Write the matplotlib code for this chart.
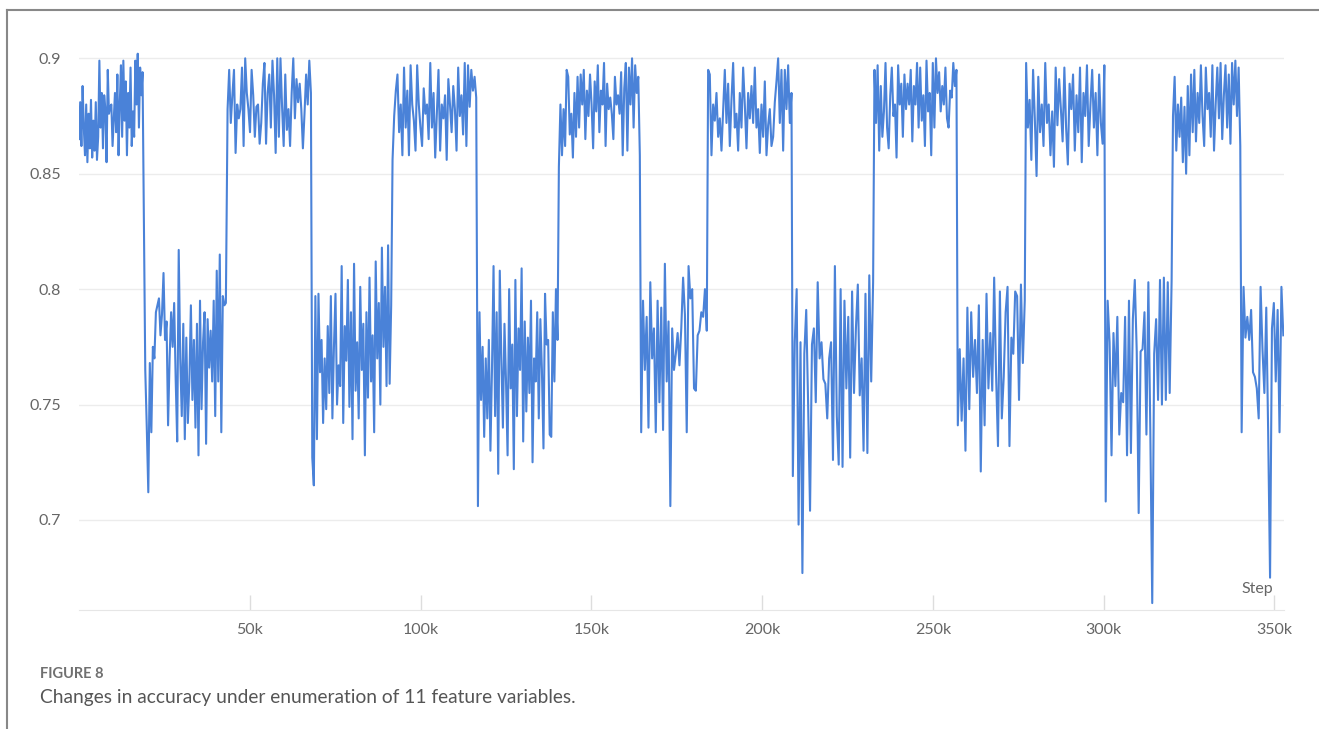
import numpy as np
import matplotlib.pyplot as plt
from matplotlib.lines import Line2D

plt.rcParams['font.family'] = ['Lato', 'DejaVu Sans']

# Segment bounds in steps [k] and accuracy values
seg_start = [0.0, 19.4, 43.5, 68.3, 91.8, 116.8, 140.5, 164.6, 184.2, 209.0, 232.9, 257.3, 277.3, 300.6, 320.3, 340.4]
seg_end = [18.6, 43.0, 67.9, 91.4, 116.3, 140.1, 164.2, 183.8, 208.6, 232.5, 256.9, 276.9, 300.2, 319.9, 340.0, 352.6]

acc_a = [0.865, 0.881, 0.862, 0.888, 0.870, 0.858, 0.880, 0.855, 0.876, 0.861, 0.882, 0.857, 0.873, 0.860,
         0.881, 0.856, 0.866, 0.899, 0.870, 0.885, 0.861, 0.884, 0.878, 0.855, 0.895, 0.876, 0.879, 0.880,
         0.862, 0.874, 0.885, 0.868, 0.893, 0.858, 0.880, 0.897, 0.866, 0.899, 0.873, 0.890, 0.858, 0.885,
         0.870, 0.896, 0.862, 0.877, 0.866, 0.899, 0.880, 0.902, 0.870, 0.896, 0.884, 0.894]
acc_b = [0.765, 0.740, 0.712, 0.768, 0.738, 0.775, 0.770, 0.790, 0.793, 0.796, 0.780, 0.789, 0.807, 0.778,
         0.786, 0.741, 0.770, 0.790, 0.775, 0.794, 0.761, 0.734, 0.817, 0.770, 0.745, 0.785, 0.735, 0.779,
         0.742, 0.760, 0.793, 0.752, 0.778, 0.740, 0.785, 0.728, 0.795, 0.748, 0.777, 0.790, 0.733, 0.787,
         0.766, 0.782, 0.760, 0.795, 0.745, 0.808, 0.760, 0.815, 0.738, 0.797, 0.793, 0.794]
acc_c = [0.878, 0.895, 0.872, 0.884, 0.895, 0.859, 0.880, 0.874, 0.878, 0.896, 0.862, 0.900, 0.885, 0.878,
         0.868, 0.895, 0.884, 0.866, 0.879, 0.880, 0.863, 0.872, 0.889, 0.898, 0.863, 0.885, 0.893, 0.870,
         0.899, 0.884, 0.859, 0.900, 0.866, 0.900, 0.879, 0.862, 0.893, 0.869, 0.878, 0.862, 0.885, 0.900,
         0.874, 0.891, 0.881, 0.889, 0.878, 0.861, 0.876, 0.893, 0.880, 0.899, 0.885]
acc_d = [0.727, 0.715, 0.797, 0.735, 0.798, 0.764, 0.778, 0.742, 0.770, 0.748, 0.784, 0.755, 0.797, 0.744,
         0.775, 0.798, 0.750, 0.767, 0.758, 0.810, 0.742, 0.784, 0.769, 0.804, 0.749, 0.790, 0.735, 0.811,
         0.756, 0.777, 0.744, 0.801, 0.765, 0.785, 0.728, 0.790, 0.753, 0.805, 0.760, 0.780, 0.738, 0.812,
         0.770, 0.794, 0.750, 0.818, 0.775, 0.801, 0.758, 0.819, 0.759, 0.793]
acc_e = [0.856, 0.875, 0.886, 0.893, 0.868, 0.880, 0.858, 0.896, 0.870, 0.886, 0.858, 0.897, 0.880, 0.873,
         0.860, 0.897, 0.880, 0.870, 0.862, 0.887, 0.876, 0.880, 0.865, 0.898, 0.870, 0.885, 0.857, 0.876,
         0.895, 0.860, 0.880, 0.874, 0.884, 0.856, 0.891, 0.880, 0.868, 0.888, 0.878, 0.860, 0.896, 0.875,
         0.884, 0.867, 0.898, 0.862, 0.897, 0.879, 0.895, 0.886, 0.892, 0.883]
acc_f = [0.706, 0.790, 0.752, 0.775, 0.736, 0.770, 0.744, 0.778, 0.730, 0.765, 0.810, 0.745, 0.790, 0.720,
         0.808, 0.770, 0.740, 0.785, 0.760, 0.728, 0.800, 0.757, 0.776, 0.722, 0.804, 0.745, 0.783, 0.765,
         0.809, 0.734, 0.786, 0.747, 0.779, 0.755, 0.795, 0.725, 0.770, 0.760, 0.790, 0.744, 0.787, 0.765,
         0.731, 0.798, 0.776, 0.778, 0.737, 0.736, 0.790, 0.760, 0.800, 0.778]
acc_g = [0.853, 0.880, 0.858, 0.878, 0.862, 0.895, 0.892, 0.867, 0.876, 0.857, 0.885, 0.866, 0.892, 0.870,
         0.893, 0.880, 0.895, 0.865, 0.886, 0.875, 0.893, 0.880, 0.861, 0.890, 0.877, 0.897, 0.868, 0.886,
         0.880, 0.898, 0.862, 0.889, 0.878, 0.883, 0.876, 0.865, 0.892, 0.880, 0.884, 0.876, 0.894, 0.858,
         0.887, 0.898, 0.860, 0.896, 0.880, 0.900, 0.870, 0.897, 0.885, 0.892, 0.858]
acc_h = [0.738, 0.795, 0.765, 0.788, 0.740, 0.803, 0.770, 0.783, 0.738, 0.795, 0.751, 0.792, 0.739, 0.811,
         0.760, 0.786, 0.706, 0.783, 0.765, 0.772, 0.781, 0.767, 0.783, 0.805, 0.789, 0.738, 0.810, 0.796,
         0.800, 0.757, 0.756, 0.780, 0.782, 0.790, 0.788, 0.800, 0.782]
acc_i = [0.895, 0.893, 0.858, 0.880, 0.873, 0.885, 0.866, 0.874, 0.860, 0.878, 0.895, 0.872, 0.889, 0.862,
         0.882, 0.898, 0.870, 0.876, 0.860, 0.885, 0.870, 0.896, 0.880, 0.861, 0.885, 0.874, 0.888, 0.872,
         0.896, 0.870, 0.878, 0.859, 0.880, 0.866, 0.890, 0.858, 0.871, 0.878, 0.862, 0.866, 0.881, 0.890,
         0.900, 0.872, 0.895, 0.860, 0.895, 0.878, 0.897, 0.872, 0.885]
acc_j = [0.719, 0.777, 0.800, 0.698, 0.777, 0.677, 0.772, 0.791, 0.750, 0.704, 0.776, 0.783, 0.751, 0.803,
         0.770, 0.777, 0.761, 0.759, 0.744, 0.770, 0.777, 0.726, 0.810, 0.745, 0.724, 0.800, 0.723, 0.795,
         0.757, 0.788, 0.727, 0.799, 0.755, 0.783, 0.802, 0.754, 0.770, 0.730, 0.798, 0.729, 0.806, 0.760,
         0.803]
acc_k = [0.895, 0.872, 0.897, 0.860, 0.888, 0.866, 0.877, 0.898, 0.870, 0.861, 0.884, 0.896, 0.875, 0.880,
         0.857, 0.897, 0.880, 0.889, 0.866, 0.893, 0.878, 0.889, 0.880, 0.895, 0.864, 0.888, 0.880, 0.898,
         0.870, 0.896, 0.873, 0.884, 0.862, 0.899, 0.877, 0.885, 0.858, 0.898, 0.870, 0.900, 0.885, 0.894,
         0.877, 0.888, 0.880, 0.896, 0.874, 0.870, 0.886, 0.883, 0.898, 0.888, 0.895]
acc_l = [0.741, 0.774, 0.743, 0.770, 0.730, 0.792, 0.748, 0.790, 0.762, 0.778, 0.755, 0.793, 0.721, 0.778,
         0.741, 0.798, 0.757, 0.781, 0.756, 0.805, 0.763, 0.732, 0.799, 0.744, 0.762, 0.790, 0.801, 0.732,
         0.779, 0.772, 0.799, 0.797, 0.752, 0.802, 0.768, 0.795]
acc_m = [0.898, 0.870, 0.882, 0.856, 0.895, 0.874, 0.849, 0.892, 0.868, 0.880, 0.862, 0.898, 0.872, 0.880,
         0.858, 0.877, 0.853, 0.896, 0.871, 0.891, 0.878, 0.864, 0.896, 0.870, 0.854, 0.889, 0.878, 0.893,
         0.860, 0.884, 0.868, 0.896, 0.855, 0.885, 0.875, 0.897, 0.862, 0.880, 0.895, 0.870, 0.885, 0.858,
         0.893, 0.872, 0.863, 0.897]
acc_n = [0.708, 0.795, 0.777, 0.728, 0.781, 0.758, 0.788, 0.737, 0.755, 0.751, 0.788, 0.728, 0.795, 0.729,
         0.787, 0.804, 0.773, 0.703, 0.773, 0.774, 0.790, 0.737, 0.803, 0.739, 0.664, 0.772, 0.787, 0.752,
         0.804, 0.750, 0.805, 0.752, 0.803, 0.755, 0.804]
acc_o = [0.875, 0.892, 0.860, 0.880, 0.866, 0.883, 0.855, 0.879, 0.850, 0.888, 0.858, 0.893, 0.868, 0.895,
         0.864, 0.885, 0.872, 0.897, 0.875, 0.862, 0.896, 0.878, 0.885, 0.866, 0.897, 0.860, 0.880, 0.896,
         0.874, 0.898, 0.865, 0.884, 0.897, 0.870, 0.893, 0.863, 0.898, 0.880, 0.899, 0.875, 0.896, 0.862]
acc_p = [0.738, 0.801, 0.779, 0.788, 0.778, 0.791, 0.764, 0.762, 0.757, 0.744, 0.801, 0.774, 0.755, 0.792,
         0.738, 0.675, 0.783, 0.794, 0.760, 0.791, 0.738, 0.801, 0.780]

segments = [acc_a, acc_b, acc_c, acc_d, acc_e, acc_f, acc_g, acc_h,
            acc_i, acc_j, acc_k, acc_l, acc_m, acc_n, acc_o, acc_p]

x_ticks = [50, 100, 150, 200, 250, 300, 350]
x_tick_labels = ['50k', '100k', '150k', '200k', '250k', '300k', '350k']
y_ticks = [0.7, 0.75, 0.8, 0.85, 0.9]
y_tick_labels = ['0.7', '0.75', '0.8', '0.85', '0.9']

# logged steps are evenly spaced inside each segment
steps = np.concatenate([np.linspace(s, e, len(v)) for s, e, v in zip(seg_start, seg_end, segments)])
acc = np.concatenate(segments)

W, H = 1319, 729
fig = plt.figure(figsize=(W / 100, H / 100), dpi=100)
ax = fig.add_axes([79 / W, 119 / H, 1205 / W, 558.6 / H])

ax.plot(steps, acc, color='#4a82d8', lw=1.5, zorder=3)

ax.set_xlim(0, 352.8)
ax.set_ylim(0.661, 0.903)
ax.set_xticks(x_ticks)
ax.set_xticklabels(x_tick_labels)
ax.set_yticks(y_ticks)
ax.set_yticklabels(y_tick_labels)
ax.grid(True, axis='y', color='#ececec', lw=1.0)
ax.set_axisbelow(True)
for s in ['top', 'right', 'left']:
    ax.spines[s].set_visible(False)
ax.spines['bottom'].set_color('#e6e6e6')
ax.tick_params(axis='x', direction='in', length=11, width=1, color='#dddddd',
               labelsize=11.5, labelcolor='#666666', pad=9)
ax.tick_params(axis='y', length=0, labelsize=11.5, labelcolor='#666666', pad=13)
ax.text(0.991, 0.037, 'Step', transform=ax.transAxes, ha='right', va='center',
        fontsize=11.5, color='#666666')

# caption
fig.text(40 / W, 1 - 674 / H, 'FIGURE 8', ha='left', va='center', fontsize=10.5,
         fontweight='bold', color='#707070')
fig.text(40 / W, 1 - 697 / H, 'Changes in accuracy under enumeration of 11 feature variables.',
         ha='left', va='center', fontsize=13.8, color='#555555')

# page frame (left and top edges)
fig.add_artist(Line2D([7 / W, 7 / W], [0, 1 - 10 / H], color='#888888', lw=1.5))
fig.add_artist(Line2D([7 / W, 1], [1 - 10 / H, 1 - 10 / H], color='#888888', lw=1.5))

fig.savefig('out.png', dpi=100)
